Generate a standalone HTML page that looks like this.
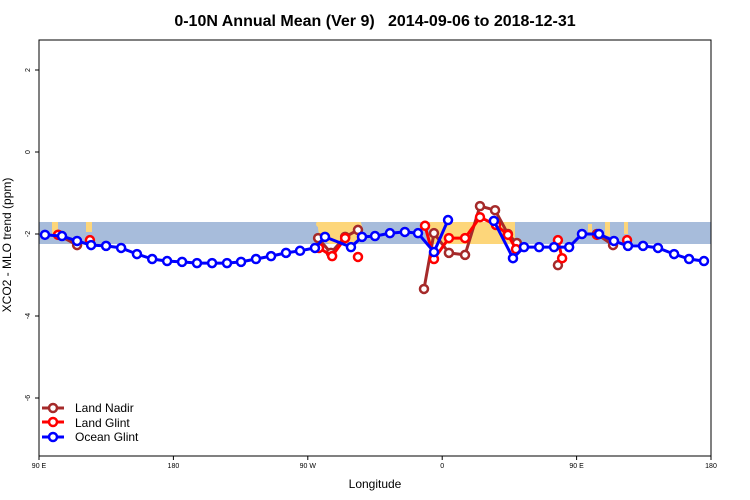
<!DOCTYPE html>
<html><head><meta charset="utf-8"><style>
body{margin:0;background:#fff;}
svg{display:block;font-family:"Liberation Sans",sans-serif;}
</style></head><body>
<svg id="chart" width="750" height="500" viewBox="0 0 750 500">
<defs><clipPath id="bandclip"><rect x="39" y="222" width="672" height="22"/></clipPath></defs>
<text x="375" y="26" text-anchor="middle" font-size="16" font-weight="bold" style="white-space:pre">0-10N Annual Mean (Ver 9)&#160;&#160;&#160;2014-09-06 to 2018-12-31</text>
<rect x="39" y="222" width="672" height="22" fill="#a7bcdb"/>
<g clip-path="url(#bandclip)" fill="#fdd67a">
<rect x="52" y="222" width="6" height="12"/><rect x="86" y="222" width="6" height="10"/>
<ellipse cx="340" cy="228" rx="22" ry="18"/><ellipse cx="322" cy="224" rx="6" ry="4"/>
<rect x="430" y="222" width="85" height="22"/>
<rect x="588" y="224" width="4" height="10"/><rect x="605" y="222" width="5" height="14"/><rect x="624" y="222" width="4" height="12"/>
</g>
<rect x="39" y="40" width="672" height="416" fill="none" stroke="#000" stroke-width="1"/>
<g id="axes"></g>
<g id="series"></g>
<text x="375" y="488" text-anchor="middle" font-size="12">Longitude</text>
<text transform="translate(11,245) rotate(-90)" text-anchor="middle" font-size="12">XCO2 - MLO trend (ppm)</text>
<g font-size="12">
<g><line x1="42" y1="408" x2="64" y2="408" stroke="#a52a2a" stroke-width="3"/><circle cx="53" cy="408" r="4" fill="#fff" stroke="#a52a2a" stroke-width="2.5"/><text x="75" y="412">Land Nadir</text></g>
<g><line x1="42" y1="422" x2="64" y2="422" stroke="#ff0000" stroke-width="3"/><circle cx="53" cy="422" r="4" fill="#fff" stroke="#ff0000" stroke-width="2.5"/><text x="75" y="427">Land Glint</text></g>
<g><line x1="42" y1="437" x2="64" y2="437" stroke="#0000ff" stroke-width="3"/><circle cx="53" cy="437" r="4" fill="#fff" stroke="#0000ff" stroke-width="2.5"/><text x="75" y="441">Ocean Glint</text></g>
</g>
</svg>
<script>
const xTickValues=[90,180,270,360,450,540];
const xTickLabels=["90 E","180","90 W","0","90 E","180"];
const yTickValues=[2,0,-2,-4,-6];
const oceanLon=[94,105.4,115.5,124.9,134.9,145,155.6,165.8,175.8,185.8,195.8,205.9,215.9,225.3,235.3,245.4,255.4,264.8,274.8,281.5,298.9,306.3,315,325,335,343.8,354.5,363.9,null,394.6,407.4,414.8,424.9,434.9,445,453.6,465,475,484.4,494.5,504.5,515.3,525.3,535.3];
const oceanVal=[-2.02,-2.05,-2.17,-2.27,-2.29,-2.34,-2.49,-2.61,-2.66,-2.68,-2.71,-2.71,-2.71,-2.68,-2.61,-2.54,-2.46,-2.41,-2.34,-2.07,-2.32,-2.07,-2.05,-1.98,-1.95,-1.98,-2.44,-1.66,null,-1.68,-2.59,-2.32,-2.32,-2.32,-2.32,-2.00,-2.00,-2.17,-2.29,-2.29,-2.34,-2.49,-2.61,-2.66];
const glintLon=[102.8,null,124.1,null,277.5,286.3,295,null,303.6,null,348.5,354.5,364.5,375.3,385.3,396,404,409.4,null,437.5,440.3,null,463.6,null,483.8];
const glintVal=[-2.02,null,-2.15,null,-2.34,-2.54,-2.10,null,-2.56,null,-1.80,-2.61,-2.10,-2.10,-1.59,-1.78,-2.02,-2.37,null,-2.15,-2.59,null,-2.02,null,-2.15];
const nadirLon=[102.8,115.5,null,276.9,285.5,295,303.6,null,347.8,354.5,364.5,375.3,385.3,395.4,404,410,null,437.5,null,463.6,474.4];
const nadirVal=[-2.02,-2.27,null,-2.10,-2.46,-2.07,-1.90,null,-3.34,-1.98,-2.46,-2.51,-1.32,-1.42,-2.00,-2.22,null,-2.76,null,-2.00,-2.27];
const NS="http://www.w3.org/2000/svg";
function xS(l){return 39+(l-90)*672/450;}
function yS(v){return 152-v*41;}
const axes=document.getElementById('axes');
xTickValues.forEach((v,i)=>{
 const t=document.createElementNS(NS,'line');
 
 
 t.setAttribute('x1',xS(v));t.setAttribute('x2',xS(v));t.setAttribute('y1',456);t.setAttribute('y2',460);t.setAttribute('stroke','#000');
 axes.appendChild(t);
 const tx=document.createElementNS(NS,'text');
 
 
 tx.setAttribute('x',xS(v));tx.setAttribute('y',468);tx.setAttribute('text-anchor','middle');tx.setAttribute('font-size','7');
 tx.textContent=xTickLabels[i];axes.appendChild(tx);
});
yTickValues.forEach(v=>{
 const t=document.createElementNS(NS,'line');
 
 
 t.setAttribute('x1',35);t.setAttribute('x2',39);t.setAttribute('y1',yS(v));t.setAttribute('y2',yS(v));t.setAttribute('stroke','#000');
 axes.appendChild(t);
 const tx=document.createElementNS(NS,'text');
 
 
 tx.setAttribute('transform','translate(30,'+yS(v)+') rotate(-90)');tx.setAttribute('text-anchor','middle');tx.setAttribute('font-size','7');
 tx.textContent=String(v);axes.appendChild(tx);
});
const sg=document.getElementById('series');
function drawSeries(lons,vals,color,name){
 const g=document.createElementNS(NS,'g');
 
 
 let d='',pen=false;
 for(let i=0;i<lons.length;i++){
  if(lons[i]===null||vals[i]===null){pen=false;continue;}
  d+=(pen?'L':'M')+xS(lons[i]).toFixed(1)+' '+yS(vals[i]).toFixed(1)+' ';pen=true;
 }
 const p=document.createElementNS(NS,'path');
 
 
 p.setAttribute('d',d);p.setAttribute('fill','none');p.setAttribute('stroke',color);p.setAttribute('stroke-width','3');p.setAttribute('stroke-linejoin','round');
 g.appendChild(p);
 for(let i=0;i<lons.length;i++){
  if(lons[i]===null||vals[i]===null)continue;
  const c=document.createElementNS(NS,'circle');
  
  
  c.setAttribute('cx',xS(lons[i]));c.setAttribute('cy',yS(vals[i]));c.setAttribute('r','4');
  c.setAttribute('fill','#fff');c.setAttribute('stroke',color);c.setAttribute('stroke-width','2.5');
  g.appendChild(c);
 }
 sg.appendChild(g);
}
drawSeries(nadirLon,nadirVal,'#a52a2a','land-nadir-series');
drawSeries(glintLon,glintVal,'#ff0000','land-glint-series');
drawSeries(oceanLon,oceanVal,'#0000ff','ocean-glint-series');
</script>
</body></html>
